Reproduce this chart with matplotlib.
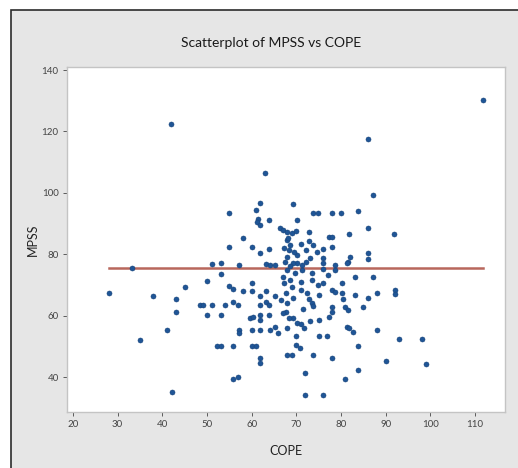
import numpy as np
import matplotlib
matplotlib.use("Agg")
from matplotlib import pyplot as plt
from matplotlib.patches import Rectangle

cope = [
    41.9, 111.7, 86.0, 63.0, 87.1, 28.1, 33.2, 35.0, 37.9, 41.0,
    42.1, 43.0, 43.0, 45.1, 50.0, 48.4, 49.1, 51.1, 50.0, 51.1,
    53.1, 53.1, 53.1, 54.0, 54.9, 54.9, 58.0, 60.0, 61.8, 63.8,
    57.1, 63.2, 64.1, 65.2, 54.9, 55.8, 58.0, 60.0, 60.0, 61.8,
    63.2, 65.2, 67.7, 55.8, 56.9, 61.8, 63.2, 63.8, 59.6, 60.3,
    61.8, 61.8, 63.8, 67.7, 64.1, 65.2, 65.9, 57.1, 57.1, 60.0,
    61.8, 67.9, 52.2, 53.1, 55.8, 60.0, 60.9, 61.8, 61.8, 67.9,
    55.8, 56.9, 61.8, 60.9, 61.4, 61.2, 61.8, 63.8, 66.3, 67.0,
    67.9, 67.9, 69.2, 70.1, 73.7, 74.8, 77.9, 80.0, 83.8, 86.0,
    81.7, 91.8, 72.8, 67.9, 69.0, 69.9, 77.3, 77.9, 72.8, 71.0,
    68.1, 68.5, 77.9, 75.9, 86.0, 86.0, 82.0, 81.5, 70.1, 73.0,
    75.9, 70.1, 71.2, 75.9, 78.6, 69.2, 67.9, 67.0, 69.7, 71.2,
    73.5, 75.9, 78.6, 81.3, 75.9, 71.0, 73.5, 83.1, 87.1, 80.2,
    77.9, 78.6, 69.2, 71.0, 72.3, 72.8, 73.5, 73.7, 75.0, 80.2,
    80.4, 80.9, 81.5, 83.1, 86.0, 88.0, 84.9, 77.9, 77.9, 77.3,
    67.0, 69.2, 70.1, 71.0, 71.7, 73.0, 75.0, 81.3, 81.7, 82.6,
    88.0, 75.0, 76.8, 69.9, 70.8, 69.0, 73.7, 77.9, 83.8, 83.8,
    90.0, 71.9, 80.9, 71.9, 75.9, 92.0, 92.0, 92.9, 98.1, 99.0,
    67.2, 68.3, 69.4, 67.4, 68.7, 72.1, 73.7, 74.6, 72.1, 67.2,
    68.5, 74.8, 77.0, 69.0, 66.5, 67.9, 71.5, 68.3, 69.9,
]
mpss = [
    122.4, 130.2, 117.5, 106.4, 99.3, 67.4, 75.5, 52.1, 66.4, 55.3,
    35.1, 65.4, 61.2, 69.3, 71.3, 63.5, 63.5, 63.5, 60.2, 76.8,
    77.1, 73.6, 60.2, 63.5, 93.4, 82.3, 85.3, 82.3, 80.4, 81.7,
    76.5, 76.8, 76.5, 76.5, 69.6, 68.7, 68.0, 70.6, 68.0, 66.4,
    68.0, 66.4, 67.4, 64.4, 63.5, 63.5, 64.4, 63.5, 59.2, 59.5,
    60.2, 58.6, 60.2, 61.2, 55.3, 56.3, 54.3, 55.3, 54.3, 55.3,
    55.3, 56.0, 50.1, 50.1, 50.1, 50.1, 50.1, 46.2, 44.6, 47.2,
    39.3, 40.0, 96.7, 94.4, 91.5, 90.5, 89.5, 91.1, 88.5, 87.9,
    84.6, 79.1, 96.4, 91.1, 93.4, 93.4, 93.4, 93.4, 94.1, 88.5,
    86.6, 86.6, 87.2, 87.2, 86.9, 87.6, 85.6, 85.6, 84.3, 83.3,
    85.3, 83.0, 82.3, 81.7, 80.4, 78.4, 79.1, 77.5, 79.7, 78.8,
    78.8, 77.1, 76.5, 77.1, 76.5, 77.1, 74.9, 72.6, 73.9, 74.9,
    73.9, 75.2, 74.9, 77.1, 70.6, 70.9, 71.6, 72.6, 72.6, 70.6,
    68.3, 67.7, 65.7, 68.3, 67.4, 65.4, 64.1, 63.1, 66.7, 67.4,
    65.4, 62.8, 61.8, 66.7, 65.7, 67.4, 62.8, 62.8, 61.2, 59.5,
    60.8, 59.2, 57.6, 57.3, 56.0, 58.2, 58.6, 56.3, 56.0, 54.7,
    55.3, 53.4, 53.4, 50.4, 49.4, 47.2, 47.2, 46.2, 50.1, 42.3,
    45.2, 41.3, 39.3, 34.1, 34.1, 68.3, 67.1, 52.4, 52.4, 44.2,
    82.0, 81.4, 80.7, 77.5, 76.2, 81.4, 83.0, 80.7, 77.5, 70.6,
    71.6, 70.0, 73.2, 69.3, 65.1, 64.1, 62.2, 59.2, 53.4,
]
fit_level = 75.5

x_ticks = [20, 30, 40, 50, 60, 70, 80, 90, 100, 110]
y_ticks = [40, 60, 80, 100, 120, 140]

W, H, DPI = 518, 468, 100
fig = plt.figure(figsize=(W / DPI, H / DPI), dpi=DPI)
fig.patch.set_facecolor("white")

# gray panel with dark frame on left/top (right/bottom run off the image)
fig.patches.append(Rectangle((11 / W, -0.05), 1.2, 1 - 9.5 / H + 0.05, transform=fig.transFigure,
                             facecolor="#e6e6e6", edgecolor="#2b2b2b", linewidth=1.2, zorder=-10))

ax = fig.add_axes([67 / W, 1 - 412 / H, 438 / W, 345 / H])
ax.set_facecolor("white")
for s in ax.spines.values():
    s.set_color("#c4c4c4")
    s.set_linewidth(1.0)

ax.scatter(cope, mpss, s=13, color="#1f5596", edgecolors="#17437a", linewidths=0.4, zorder=3)
ax.plot([min(cope), max(cope)], [fit_level, fit_level], color="#b8675c", linewidth=1.8, zorder=2)

ax.set_xlim(18.7, 116.7)
ax.set_ylim(28.6, 141)
ax.set_xticks(x_ticks)
ax.set_yticks(y_ticks)
ax.tick_params(labelsize=7, colors="#444444", length=3, width=0.6, pad=3)
for lab in ax.get_xticklabels() + ax.get_yticklabels():
    lab.set_family("Lato")

ax.set_xlabel("COPE", fontsize=9, family="Lato", color="#222222", labelpad=11)
ax.set_ylabel("MPSS", fontsize=9, family="Lato", color="#222222", labelpad=2)

fig.text(271 / W, 1 - 43 / H, "Scatterplot of MPSS vs COPE", ha="center", va="center",
         fontsize=10, family="Lato", color="#1a1a1a")

fig.savefig("out.png", dpi=DPI)
